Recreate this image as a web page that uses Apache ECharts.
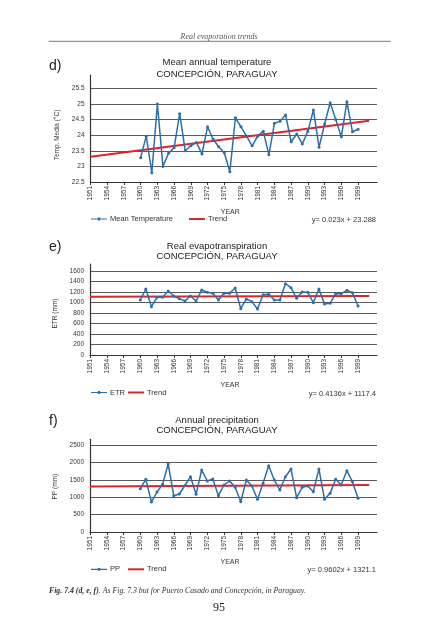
<!DOCTYPE html>
<html><head><meta charset="utf-8">
<script src="https://cdn.jsdelivr.net/npm/echarts@6/dist/echarts.min.js"></script>
<style>html,body{margin:0;padding:0;background:#fff}#c{width:439px;height:640px}</style>
</head><body><div id="c"></div>
<script>
// ---- data ----
const years = [1960,1961,1962,1963,1964,1965,1966,1967,1968,1969,1970,1971,1972,1973,1974,1975,1976,1977,1978,1979,1980,1981,1982,1983,1984,1985,1986,1987,1988,1989,1990,1991,1992,1993,1994,1995,1996,1997,1998,1999];
const tempValues = [23.28,23.97,22.80,25.00,23.00,23.42,23.60,24.69,23.50,23.66,23.77,23.40,24.27,23.87,23.63,23.44,22.83,24.56,24.27,23.97,23.66,23.97,24.13,23.37,24.38,24.45,24.65,23.79,24.04,23.72,24.13,24.81,23.61,24.36,25.04,24.50,23.95,25.07,24.11,24.19];
const etrValues = [1048,1257,920,1099,1099,1219,1124,1073,1029,1124,1029,1238,1194,1175,1048,1175,1175,1276,882,1067,1016,876,1149,1156,1048,1048,1359,1283,1080,1200,1194,997,1257,971,984,1168,1168,1232,1187,933];
const ppValues = [1249,1518,864,1153,1374,1960,1047,1095,1340,1594,1086,1787,1470,1527,1047,1355,1470,1287,873,1499,1326,942,1403,1911,1499,1210,1594,1816,989,1287,1326,1162,1816,942,1114,1518,1355,1767,1450,971];
const trendYears = [1951, 2001];
const tempTrend = [23.31, 24.46];
const etrTrend = [1108, 1124];
const ppTrend = [1308, 1356];
const xTickYears = [1951,1954,1957,1960,1963,1966,1969,1972,1975,1978,1981,1984,1987,1990,1993,1996,1999];
const panelLetters = ['d)', 'e)', 'f)'];
const titles = [
  ['Mean annual temperature', 'CONCEPCIÓN, PARAGUAY'],
  ['Real evapotranspiration', 'CONCEPCIÓN, PARAGUAY'],
  ['Annual precipitation', 'CONCEPCIÓN, PARAGUAY']
];
const yNames = ['Temp. Media (°C)', 'ETR (mm)', 'PP (mm)'];
const seriesNames = ['Mean Temperature', 'ETR', 'PP'];
const trendName = 'Trend';
const equations = ['y= 0.023x + 23.288', 'y= 0.4136x + 1117.4', 'y= 0.9602x + 1321.1'];
const yMin = [22.5, 0, 0];
const yMax = [25.93, 1733, 2672];
const yInterval = [0.5, 200, 500];

// ---- layout ----
const FONT = 'Liberation Sans';
const BLUE = '#2e6ea8';
const RED = '#d9262c';
const GRID = '#5a5a5a';
const TXT = '#333';
const ICON_SERIES = 'path://M0,3.4L16,3.4L16,4.6L0,4.6Z M6.8,2.6L9.2,2.6L9.2,5.4L6.8,5.4Z';
const ICON_TREND = 'path://M0,0L16,0L16,2L0,2Z';
const panels = [
  {left: 90.5, top: 75, width: 286.5, height: 107, letterY: 67.5, t1: 62.7, t2: 74, legY: 220, legGap: 16, namePad: 13},
  {left: 90, top: 264, width: 287, height: 91, letterY: 248.3, t1: 246.7, t2: 256.5, legY: 393.5, legGap: 3, namePad: 8},
  {left: 90, top: 439.3, width: 287, height: 92.7, letterY: 422.5, t1: 420, t2: 430.7, legY: 570.3, legGap: 8, namePad: 2}
];
const xMin = 1951, xMax = 2002.4;

const grid = [], xAxis = [], yAxis = [], series = [], legend = [], graphic = [];
panels.forEach((p, i) => {
  grid.push({left: p.left, top: p.top, width: p.width, height: p.height, containLabel: false});
  xAxis.push({
    type: 'value', gridIndex: i, min: xMin, max: xMax, interval: 3,
    name: 'YEAR', nameLocation: 'middle', nameGap: 27,
    nameTextStyle: {fontFamily: FONT, fontSize: 7, color: TXT, padding: [0, 7, 0, 0]},
    axisLine: {lineStyle: {color: '#333', width: 1.2}},
    axisTick: {show: true, length: 3, lineStyle: {color: '#333'}, customValues: xTickYears},
    axisLabel: {rotate: 90, fontFamily: FONT, fontSize: 6.5, color: TXT, margin: 4,
      customValues: xTickYears,
      formatter: v => (v <= 1999 && Number.isInteger(v)) ? String(v) : ''},
    splitLine: {show: false}
  });
  yAxis.push({
    type: 'value', gridIndex: i, min: yMin[i], max: yMax[i], interval: yInterval[i],
    name: yNames[i], nameLocation: 'middle', nameRotate: 90, nameGap: 27,
    nameTextStyle: {fontFamily: FONT, fontSize: 6.5, color: TXT, padding: [0, p.namePad, 0, 0]},
    axisLine: {show: true, lineStyle: {color: '#333', width: 1.2}},
    axisTick: {show: false},
    axisLabel: {fontFamily: FONT, fontSize: 6.5, color: TXT, margin: 6, showMaxLabel: false,
      formatter: v => String(v)},
    splitLine: {show: true, showMaxLine: false, lineStyle: {color: GRID, width: 1}}
  });
  const vals = [tempValues, etrValues, ppValues][i];
  const tr = [tempTrend, etrTrend, ppTrend][i];
  series.push({
    name: trendName, type: 'line', xAxisIndex: i, yAxisIndex: i,
    data: trendYears.map((y, k) => [y, tr[k]]),
    showSymbol: false, symbol: 'none', lineStyle: {color: RED, width: 2}, itemStyle: {color: RED},
    silent: true, animation: false, z: 2
  });
  series.push({
    name: seriesNames[i], type: 'line', xAxisIndex: i, yAxisIndex: i,
    data: years.map((y, k) => [y, vals[k]]),
    symbol: 'circle', symbolSize: 3, showSymbol: true,
    lineStyle: {color: BLUE, width: 1.5}, itemStyle: {color: BLUE},
    animation: false, z: 3
  });
  legend.push({
    data: [{name: seriesNames[i], icon: ICON_SERIES, itemStyle: {color: BLUE}},
           {name: trendName, icon: ICON_TREND, itemStyle: {color: RED}}],
    left: 91, top: p.legY - 5, itemGap: p.legGap,
    itemWidth: 16, itemHeight: 8, padding: 0, selectedMode: false,
    textStyle: {fontFamily: FONT, fontSize: 7.5, color: TXT, padding: [0, 0, 0, -2]}
  });
  graphic.push({type: 'text', left: 49, top: p.letterY - 8,
    style: {text: panelLetters[i], font: '14px ' + FONT, fill: '#222'}});
  graphic.push({type: 'text', x: 217, y: p.t1, style: {text: titles[i][0], font: '9.5px ' + FONT, fill: '#222', textAlign: 'center', textVerticalAlign: 'middle'}});
  graphic.push({type: 'text', x: 217, y: p.t2, style: {text: titles[i][1], font: '9.5px ' + FONT, fill: '#222', textAlign: 'center', textVerticalAlign: 'middle'}});
  graphic.push({type: 'text', x: 376, y: p.legY, style: {text: equations[i], font: '7.5px ' + FONT, fill: TXT, textAlign: 'right', textVerticalAlign: 'middle'}});
});

// page decorations
graphic.push({type: 'text', x: 219, y: 37, style: {text: 'Real evaporation trends', font: 'italic 8px Liberation Serif', fill: '#555', textAlign: 'center', textVerticalAlign: 'middle'}});
graphic.push({type: 'line', shape: {x1: 48.7, y1: 41.3, x2: 390.7, y2: 41.3}, style: {stroke: '#777', lineWidth: 1}});
graphic.push({type: 'text', x: 49, y: 591, style: {
  text: '{b|Fig. 7.4 (d, e, f)}{n|. As Fig. 7.3 but for Puerto Casado and Concepción, in Paraguay.}',
  textVerticalAlign: 'middle',
  rich: {b: {font: 'italic bold 7.8px Liberation Serif', fill: '#333'}, n: {font: 'italic 7.8px Liberation Serif', fill: '#333'}}
}});
graphic.push({type: 'text', x: 219, y: 608, style: {text: '95', font: '12px Liberation Serif', fill: '#222', textAlign: 'center', textVerticalAlign: 'middle'}});

const chart = echarts.init(document.getElementById('c'), null, {renderer: 'canvas'});
chart.setOption({backgroundColor: '#fff', animation: false, grid, xAxis, yAxis, series, legend, graphic});
</script></body></html>
